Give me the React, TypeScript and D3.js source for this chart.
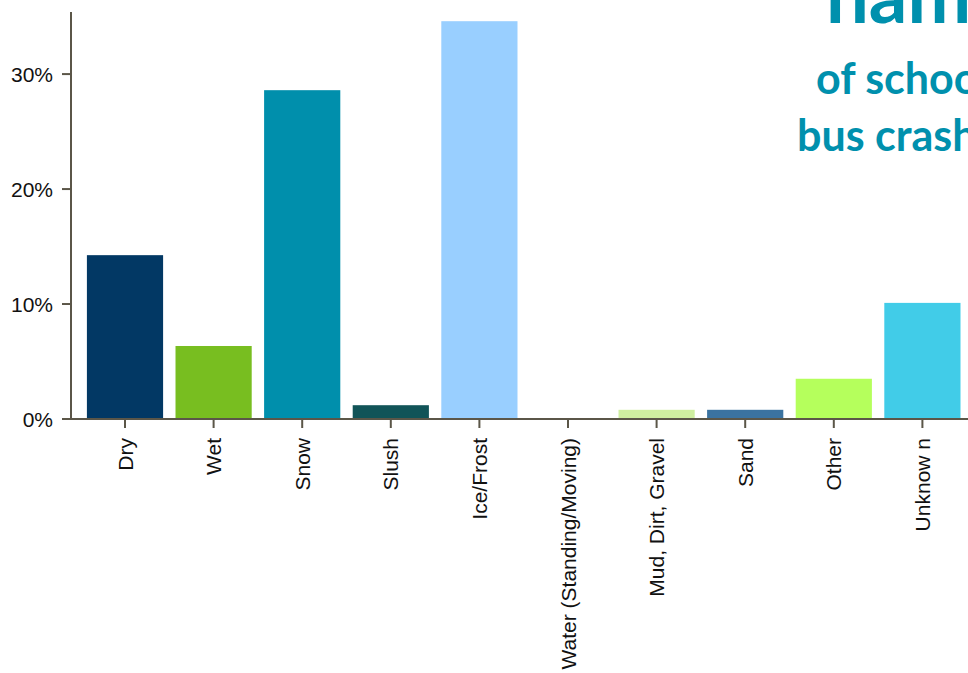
import React from "react";
import * as d3 from "d3";

const categories = ["Dry", "Wet", "Snow", "Slush", "Ice/Frost", "Water (Standing/Moving)", "Mud, Dirt, Gravel", "Sand", "Other", "Unknow n"];
const values = [14.25, 6.35, 28.6, 1.2, 34.6, 0, 0.8, 0.8, 3.5, 10.1];
const colors = ["#023864", "#78BE20", "#008FAC", "#115458", "#99CFFF", "#FFFFFF", "#CFEFA0", "#3B73A0", "#B5FF5C", "#41CCE8"];
const yTicks = [0, 10, 20, 30];
const titleLines = ["nam", "of schoo", "bus crash"];

const W = 968, H = 673;
const axisColor = "#5B5648";

export default function App() {
  const y = d3.scaleLinear().domain([0, 35.4]).range([419, 12]);
  const x = d3.scaleBand<string>().domain(categories).range([80.7, 966.7]).paddingInner(0.14).paddingOuter(0.07);
  const bw = x.bandwidth();
  return (
    <svg width={W} height={H} style={{ position: "absolute", left: 0, top: 0, background: "#fff" }}>
      {categories.map((c, i) => (
        <rect key={c} x={x(c)} y={y(values[i])} width={bw} height={y(0) - y(values[i])} fill={colors[i]} />
      ))}
      <line x1={71} x2={71} y1={12} y2={420} stroke={axisColor} strokeWidth={2} />
      <line x1={62} x2={968} y1={419} y2={419} stroke={axisColor} strokeWidth={2} />
      {yTicks.map((t) => (
        <g key={t}>
          <line x1={62} x2={71} y1={y(t)} y2={y(t)} stroke={axisColor} strokeWidth={2} />
          <text x={53} y={y(t)} dy="0.36em" textAnchor="end" fontFamily="Liberation Sans, Arial" fontSize={21} fill="#111">{t}%</text>
        </g>
      ))}
      {categories.map((c) => {
        const cx = (x(c) as number) + bw / 2;
        return (
          <g key={c}>
            <line x1={cx} x2={cx} y1={419} y2={428} stroke={axisColor} strokeWidth={2} />
            <text transform={`translate(${cx},438) rotate(-90)`} dy="0.36em" textAnchor="end" fontFamily="Liberation Sans, Arial" fontSize={21} fill="#111">{c}</text>
          </g>
        );
      })}
      <text x={826} y={23} fontFamily="Lato" fontWeight={700} fontSize={76} fill="#0090AD">{titleLines[0]}</text>
      <text x={816} y={94} fontFamily="Lato" fontWeight={700} fontSize={43} fill="#0090AD">{titleLines[1]}</text>
      <text x={797} y={151} fontFamily="Lato" fontWeight={700} fontSize={43} fill="#0090AD">{titleLines[2]}</text>
    </svg>
  );
}
